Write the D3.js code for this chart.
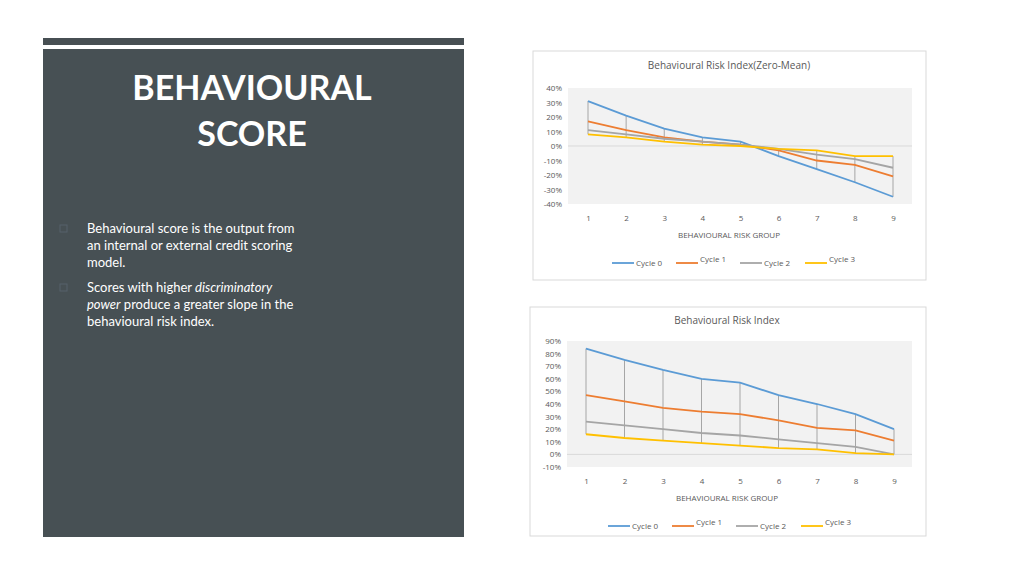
<!DOCTYPE html>
<html><head><meta charset="utf-8">
<script src="https://cdn.jsdelivr.net/npm/d3@7"></script>
<style>body{margin:0;background:#fff}svg{display:block}</style>
</head><body>
<svg width="1024" height="576"></svg>
<script>
const groups = [1, 2, 3, 4, 5, 6, 7, 8, 9];
const seriesNames = ['Cycle 0', 'Cycle 1', 'Cycle 2', 'Cycle 3'];
const colors = ['#5b9bd5', '#ed7d31', '#a5a5a5', '#ffc000'];

// zero-mean index (%)
const zm0 = [31, 21, 12, 6, 3, -7, -16, -25, -35];
const zm1 = [17, 11, 6, 3, 1, -3, -10, -13, -21];
const zm2 = [11, 8, 5, 3, 1, -2, -6, -9, -15];
const zm3 = [8, 6, 3, 1, 0, -2, -3, -7, -7];
const zmTicks = [40, 30, 20, 10, 0, -10, -20, -30, -40];

// risk index (%)
const ri0 = [84, 75, 67, 60, 57, 47, 40, 32, 20];
const ri1 = [47, 42, 37, 34, 32, 27, 21, 19, 11];
const ri2 = [26, 23, 20, 17, 15, 12, 9, 6, 0];
const ri3 = [16, 13, 11, 9, 7, 5, 4, 1, 0];
const riTicks = [90, 80, 70, 60, 50, 40, 30, 20, 10, 0, -10];

const svg = d3.select('svg');
const font = '"Open Sans", sans-serif';
const tfont = 'Lato, sans-serif';

// left panel
svg.append('rect').attr('x', 43).attr('y', 38).attr('width', 421).attr('height', 7).attr('fill', '#474f53');
svg.append('rect').attr('x', 43).attr('y', 49).attr('width', 421).attr('height', 488).attr('fill', '#475054');
svg.append('text').attr('x', 252).attr('y', 100).attr('text-anchor', 'middle').attr('fill', '#fff')
    .style('font-family', tfont).style('font-weight', 'bold').style('font-size', '34px').text('BEHAVIOURAL');
svg.append('text').attr('x', 252).attr('y', 146).attr('text-anchor', 'middle').attr('fill', '#fff')
    .style('font-family', tfont).style('font-weight', 'bold').style('font-size', '34px').text('SCORE');

const bullets = [
    {y: 233, lines: [['Behavioural score is the output from'], ['an internal or external credit scoring'], ['model.']]},
    {y: 292, lines: [['Scores with higher ', ['discriminatory']], [['power'], ' produce a greater slope in the'], ['behavioural risk index.']]}
];
bullets.forEach(b => {
    svg.append('rect').attr('x', 60).attr('y', b.y - 8).attr('width', 7).attr('height', 7)
        .attr('fill', 'none').attr('stroke', '#56606a').attr('stroke-width', 1);
    b.lines.forEach((ln, i) => {
        const t = svg.append('text').attr('x', 87).attr('y', b.y + i * 17).attr('fill', '#fff')
            .style('font-family', tfont).style('font-size', '13px');
        ln.forEach(part => {
            if (Array.isArray(part)) t.append('tspan').style('font-style', 'italic').text(part[0]);
            else t.append('tspan').text(part);
        });
    });
});

function chart(cfg) {
    const g = svg.append('g');
    g.append('rect').attr('x', cfg.box[0]).attr('y', cfg.box[1]).attr('width', cfg.box[2]).attr('height', cfg.box[3])
        .attr('fill', '#fff').attr('stroke', '#d9d9d9');
    const x = d3.scalePoint().domain(groups).range([cfg.xr[0], cfg.xr[1]]);
    const y = d3.scaleLinear().domain([cfg.ticks[cfg.ticks.length - 1], cfg.ticks[0]]).range([cfg.yr[1], cfg.yr[0]]);
    g.append('rect').attr('x', cfg.plotX[0]).attr('y', cfg.yr[0]).attr('width', cfg.plotX[1] - cfg.plotX[0])
        .attr('height', cfg.yr[1] - cfg.yr[0]).attr('fill', '#f2f2f2');
    g.append('text').attr('x', cfg.cx).attr('y', cfg.titleY).attr('text-anchor', 'middle').attr('fill', '#595959')
        .style('font-family', font).style('font-size', '10px').text(cfg.title);
    const ax = g.append('g').attr('transform', `translate(${cfg.plotX[0] - 6},0)`)
        .call(d3.axisLeft(y).tickValues(cfg.ticks).tickFormat(d => d + '%').tickSize(0).tickPadding(0));
    ax.select('.domain').remove();
    ax.selectAll('text').attr('fill', '#595959').style('font-family', font).style('font-size', '8px');
    g.append('line').attr('x1', cfg.plotX[0]).attr('x2', cfg.plotX[1]).attr('y1', y(0)).attr('y2', y(0)).attr('stroke', '#d9d9d9');
    const bx = g.append('g').attr('transform', `translate(0,${cfg.yr[1] + 8})`)
        .call(d3.axisBottom(x).tickSize(0));
    bx.select('.domain').remove();
    bx.selectAll('text').attr('fill', '#595959').style('font-family', font).style('font-size', '8px');
    g.append('text').attr('x', cfg.cx).attr('y', cfg.yr[1] + 34).attr('text-anchor', 'middle').attr('fill', '#595959')
        .style('font-family', font).style('font-size', '8px').text('BEHAVIOURAL RISK GROUP');
    // high-low lines
    groups.forEach((gr, i) => {
        const vals = cfg.data.map(s => s[i]);
        g.append('line').attr('x1', x(gr)).attr('x2', x(gr)).attr('y1', y(d3.max(vals))).attr('y2', y(d3.min(vals)))
            .attr('stroke', '#a6a6a6').attr('stroke-width', 1);
    });
    const line = d3.line().x((d, i) => x(groups[i])).y(d => y(d));
    cfg.data.forEach((s, k) => {
        g.append('path').datum(s).attr('d', line).attr('fill', 'none').attr('stroke', colors[k]).attr('stroke-width', 1.8);
    });
    const lx = [612, 676, 740, 805];
    seriesNames.forEach((n, k) => {
        const ly = cfg.yr[1] + 59;
        g.append('line').attr('x1', lx[k] + cfg.dx).attr('x2', lx[k] + cfg.dx + 22).attr('y1', ly).attr('y2', ly)
            .attr('stroke', colors[k]).attr('stroke-width', 1.8);
        g.append('text').attr('x', lx[k] + cfg.dx + 24).attr('y', ly + (k % 2 ? -1 : 3)).attr('fill', '#595959')
            .style('font-family', font).style('font-size', '8px').text(n);
    });
}

chart({box: [533, 51, 393, 229], plotX: [568, 912], xr: [588, 893], yr: [88, 204], ticks: zmTicks,
    cx: 729, titleY: 69, title: 'Behavioural Risk Index(Zero-Mean)', data: [zm0, zm1, zm2, zm3], dx: 0});
chart({box: [530, 307, 396, 229], plotX: [567, 912], xr: [586, 894], yr: [341, 467], ticks: riTicks,
    cx: 727, titleY: 324, title: 'Behavioural Risk Index', data: [ri0, ri1, ri2, ri3], dx: -4});
</script>
</body></html>
